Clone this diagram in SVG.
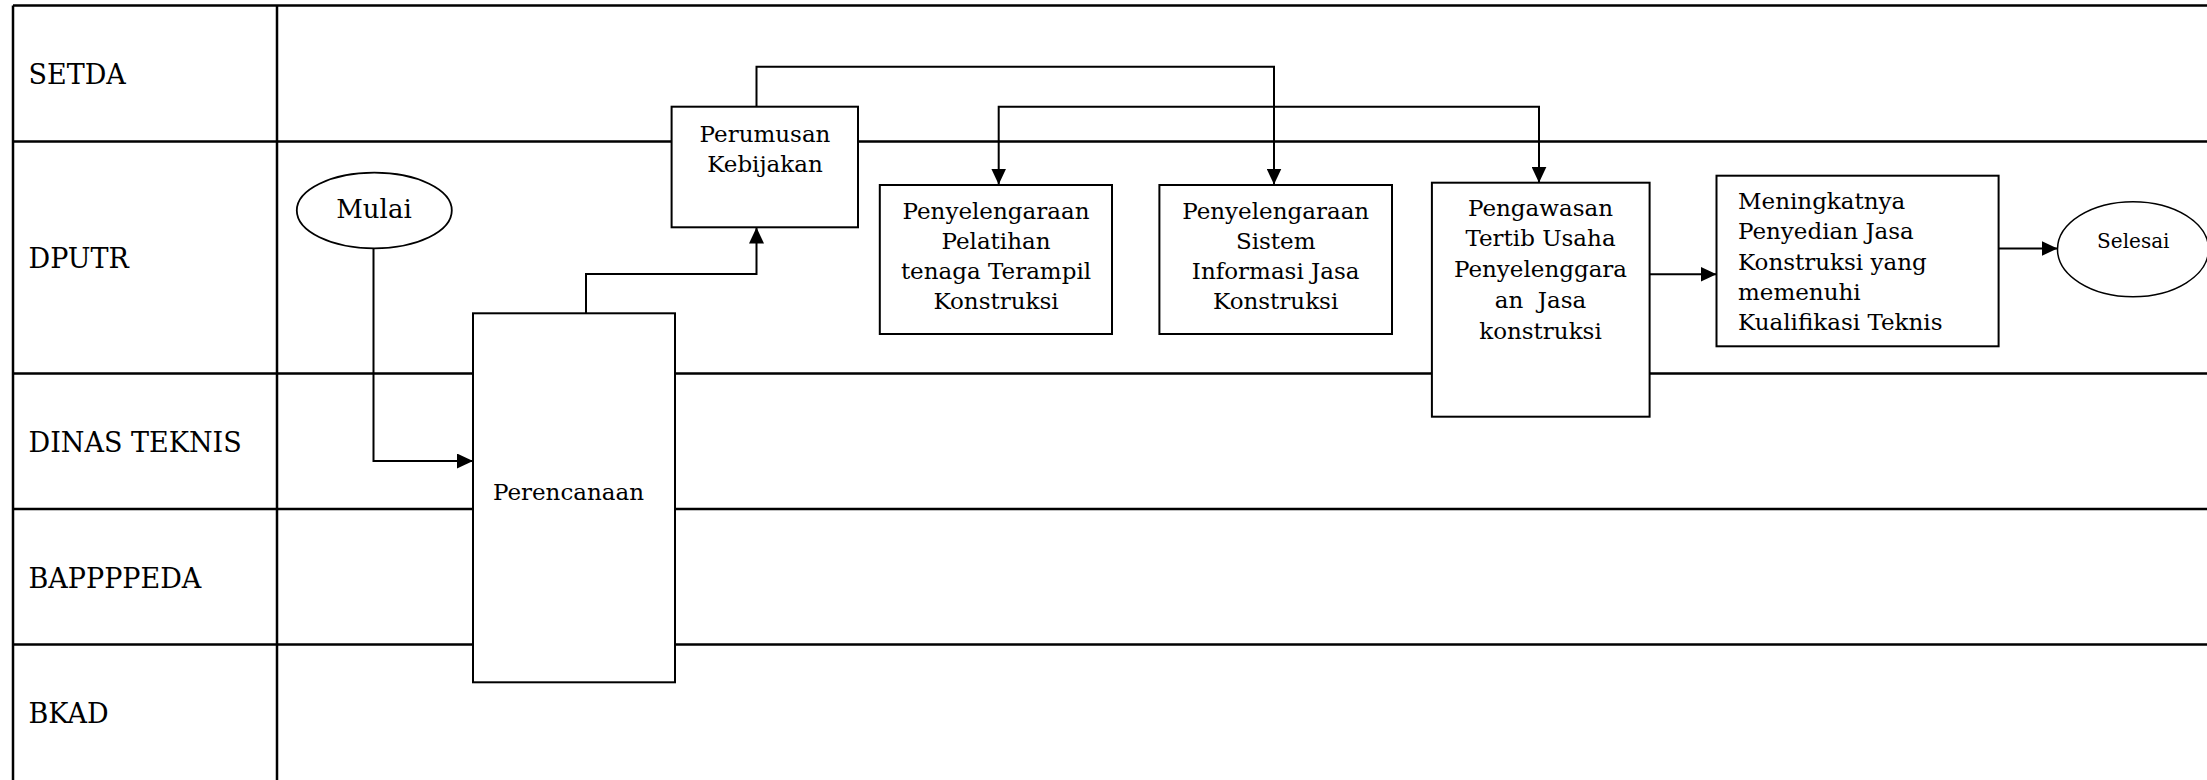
<svg xmlns="http://www.w3.org/2000/svg" width="2207" height="780" viewBox="0 0 2207 780">
  <style>
    .lane { stroke: #000; stroke-width: 2.5; fill: none; }
    .box { fill: #fff; stroke: #000; stroke-width: 2; }
    .term { fill: #fff; stroke: #000; stroke-width: 1.8; }
    .conn { fill: none; stroke: #000; stroke-width: 2; }
    .lbl { font-family: "DejaVu Serif", "Liberation Serif", serif; font-size: 27px; fill: #000; }
    .txt { font-family: "DejaVu Serif", "Liberation Serif", serif; font-size: 23px; fill: #000; }
    .mid { text-anchor: middle; }
  </style>
  <defs>
    <marker id="arrow" markerUnits="userSpaceOnUse" markerWidth="17" markerHeight="15" refX="16" refY="7.5" orient="auto">
      <path d="M0,0 L16,7.5 L0,15 Z" fill="#000"/>
    </marker>
  </defs>

  <rect width="2207" height="780" fill="#fff"/>

  <!-- swimlane grid -->
  <g id="lanes">
    <path class="lane" d="M13,5.5 H2207 M13,5.5 V780 M277,5.5 V780 M13,141.5 H2207 M13,373.5 H2207 M13,509 H2207 M13,644.5 H2207"/>
    <text class="lbl" x="28.5" y="83.5">SETDA</text>
    <text class="lbl" x="28.5" y="267.5">DPUTR</text>
    <text class="lbl" x="28.5" y="451.5">DINAS TEKNIS</text>
    <text class="lbl" x="28.5" y="587.5">BAPPPPEDA</text>
    <text class="lbl" x="28.5" y="722.5">BKAD</text>
  </g>

  <!-- connectors -->
  <g id="connectors">
    <path class="conn" d="M373.5,248 V461 H473" marker-end="url(#arrow)"/>
    <path class="conn" d="M586,313 V274 H756.5 V227.5" marker-end="url(#arrow)"/>
    <path class="conn" d="M756.5,107 V66.7 H1274 V184.5" marker-end="url(#arrow)"/>
    <path class="conn" d="M1274,106.7 H998.7 V184.5" marker-end="url(#arrow)"/>
    <path class="conn" d="M1274,106.7 H1539 V182.7" marker-end="url(#arrow)"/>
    <path class="conn" d="M1649.6,274.3 H1716.5" marker-end="url(#arrow)"/>
    <path class="conn" d="M1998.6,248.5 H2057.5" marker-end="url(#arrow)"/>
  </g>

  <g id="mulai">
    <ellipse class="term" cx="374.3" cy="210.5" rx="77.5" ry="37.8"/>
    <text class="txt mid" x="374" y="217.5" style="font-size:26px">Mulai</text>
  </g>

  <g id="perencanaan">
    <rect class="box" x="473" y="313.3" width="202" height="369"/>
    <text class="txt mid" x="568.5" y="500">Perencanaan</text>
  </g>

  <g id="perumusan">
    <rect class="box" x="671.6" y="106.7" width="186.4" height="120.6"/>
    <text class="txt mid" x="765" y="141.5">Perumusan</text>
    <text class="txt mid" x="765" y="172">Kebijakan</text>
  </g>

  <g id="pelatihan">
    <rect class="box" x="879.8" y="185" width="232.2" height="149"/>
    <text class="txt mid" x="996" y="219.3">Penyelengaraan</text>
    <text class="txt mid" x="996" y="249.3">Pelatihan</text>
    <text class="txt mid" x="996" y="279.3">tenaga Terampil</text>
    <text class="txt mid" x="996" y="309.3">Konstruksi</text>
  </g>

  <g id="sistem">
    <rect class="box" x="1159.4" y="185" width="232.6" height="149"/>
    <text class="txt mid" x="1275.7" y="219.3">Penyelengaraan</text>
    <text class="txt mid" x="1275.7" y="249.3">Sistem</text>
    <text class="txt mid" x="1275.7" y="279.3">Informasi Jasa</text>
    <text class="txt mid" x="1275.7" y="309.3">Konstruksi</text>
  </g>

  <g id="pengawasan">
    <rect class="box" x="1431.9" y="182.7" width="217.7" height="234"/>
    <text class="txt mid" x="1540.5" y="215.7">Pengawasan</text>
    <text class="txt mid" x="1540.5" y="246">Tertib Usaha</text>
    <text class="txt mid" x="1540.5" y="277.3">Penyelenggara</text>
    <text class="txt mid" x="1540.5" y="307.7" xml:space="preserve">an  Jasa</text>
    <text class="txt mid" x="1540.5" y="339">konstruksi</text>
  </g>

  <g id="meningkatnya">
    <rect class="box" x="1716.5" y="175.7" width="282.1" height="170.6"/>
    <text class="txt" x="1738" y="209.3">Meningkatnya</text>
    <text class="txt" x="1738" y="239.3">Penyedian Jasa</text>
    <text class="txt" x="1738" y="270">Konstruksi yang</text>
    <text class="txt" x="1738" y="300">memenuhi</text>
    <text class="txt" x="1738" y="330">Kualifikasi Teknis</text>
  </g>

  <g id="selesai">
    <ellipse class="term" cx="2133" cy="249.2" rx="75.5" ry="47.5" style="stroke-width:1.5"/>
    <text class="txt mid" x="2133.3" y="248.3" style="font-size:20px">Selesai</text>
  </g>
</svg>
